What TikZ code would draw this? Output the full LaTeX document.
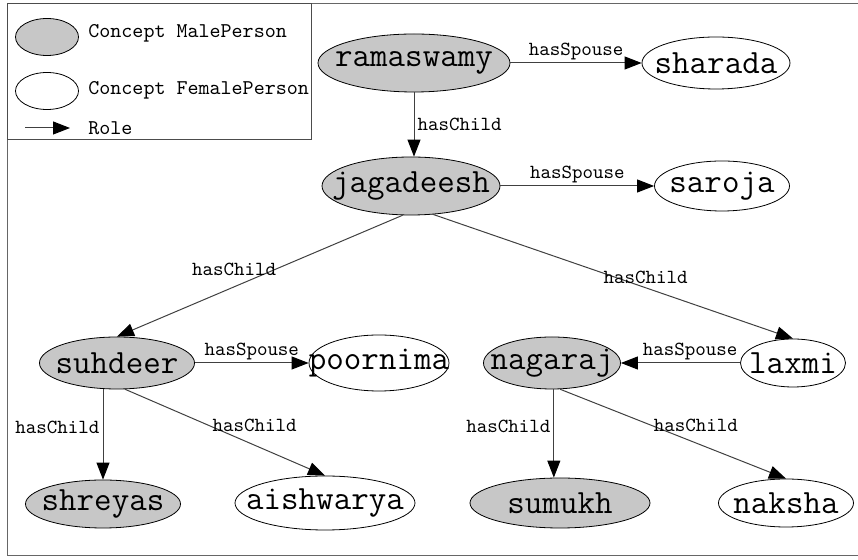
\documentclass[tikz,border=0pt]{standalone}
\usepackage{fontspec}
\usetikzlibrary{shapes.geometric,arrows.meta}
\newcommand{\personfont}{\ttfamily\addfontfeatures{FakeBold=0.8}\fontsize{17}{18}\selectfont}
\newcommand{\rolefont}{\ttfamily\addfontfeatures{FakeBold=0.6}\fontsize{10}{11}\selectfont}
\newcommand{\keyfont}{\ttfamily\addfontfeatures{FakeBold=0.4}\fontsize{10.5}{12}\selectfont}
\newcommand{\pname}[1]{\makebox[0pt]{#1}}
\tikzset{
  male/.style={ellipse, draw, fill=black!22, inner sep=0pt, font=\personfont},
  female/.style={ellipse, draw, fill=white, inner sep=0pt, font=\personfont},
  role/.style={draw=black!75, line width=0.5pt, -{Triangle[length=8.5pt,width=6.5pt,color=black]}},
  rolelabel/.style={font=\rolefont, inner sep=1.5pt},
  keytext/.style={font=\keyfont, anchor=west, inner sep=0pt}
}
\begin{document}
\begin{tikzpicture}[x=0.5pt,y=-0.5pt]
\useasboundingbox (0,0) rectangle (858,560);
%\draw[step=50,gray,very thin] (0,0) grid (858,560);
\draw[black!60] (858,3) -- (7,3) -- (7,555) -- (858,555);
% legend
\draw[black!70] (7,3) rectangle (311,139);
\node[male, minimum width=31.5pt, minimum height=18.5pt] (keym) at (47,37) {};
\node[female, minimum width=31.5pt, minimum height=18.5pt] (keyf) at (47,91) {};
\coordinate (keya) at (25,128);
\coordinate (keyb) at (70,128);
\draw[role] (keya) -- (keyb);
\node[keytext] (keymt) at (88,33) {Concept MalePerson};
\node[keytext] (keyft) at (88,90) {Concept FemalePerson};
\node[keytext] (keyrt) at (88,128) {Role};
% persons
\node[male, minimum width=96pt, minimum height=29pt] (ram) at (414,63) {\pname{ramaswamy}};
\node[female, minimum width=74pt, minimum height=26pt] (sha) at (716,63) {\pname{sharada}};
\node[male, minimum width=89pt, minimum height=29pt] (jag) at (411,186) {\pname{jagadeesh}};
\node[female, minimum width=67.5pt, minimum height=25pt] (sar) at (722,186) {\pname{saroja}};
\node[male, minimum width=77.5pt, minimum height=26pt] (suh) at (117,363) {\pname{suhdeer}};
\node[female, minimum width=70pt, minimum height=28pt] (poo) at (379,363) {\pname{poornima}};
\node[male, minimum width=68.5pt, minimum height=26pt] (nag) at (552,363) {\pname{nagaraj}};
\node[female, minimum width=52.5pt, minimum height=24pt] (lax) at (793,363) {\pname{laxmi}};
\node[male, minimum width=77.5pt, minimum height=24pt] (shr) at (103,504) {\pname{shreyas}};
\node[female, minimum width=90pt, minimum height=27pt] (ais) at (325,503) {\pname{aishwarya}};
\node[male, minimum width=90pt, minimum height=25pt] (sum) at (560,503) {\pname{sumukh}};
\node[female, minimum width=67.5pt, minimum height=24pt] (nak) at (786,503) {\pname{naksha}};
% roles
\draw[role] (ram) -- node[rolelabel, midway, above] {hasSpouse} (sha);
\draw[role] (ram.south) -- node[rolelabel, midway, right] {hasChild} (ram.south |- jag.north);
\draw[role] (jag) -- node[rolelabel, midway, above] {hasSpouse} (sar);
\draw[role] (jag.254) -- node[rolelabel, pos=0.59, above=4pt] {hasChild} (suh.north);
\draw[role] (jag.308) -- node[rolelabel, pos=0.59, above] {hasChild} (lax.north);
\draw[role] (suh) -- node[rolelabel, midway, above] {hasSpouse} (poo);
\draw[role] (lax) -- node[rolelabel, pos=0.42, above] {hasSpouse} (nag);
\draw[role] (shr.north |- suh.south) -- node[rolelabel, pos=0.42, left] {hasChild} (shr.north);
\draw[role] (suh.287) -- node[rolelabel, pos=0.42, right] {hasChild} (ais.north);
\draw[role] (nag.274) -- node[rolelabel, pos=0.42, left] {hasChild} (nag.274 |- sum.north);
\draw[role] (nag.287) -- node[rolelabel, pos=0.4, right] {hasChild} (nak.north);
\end{tikzpicture}
\end{document}
